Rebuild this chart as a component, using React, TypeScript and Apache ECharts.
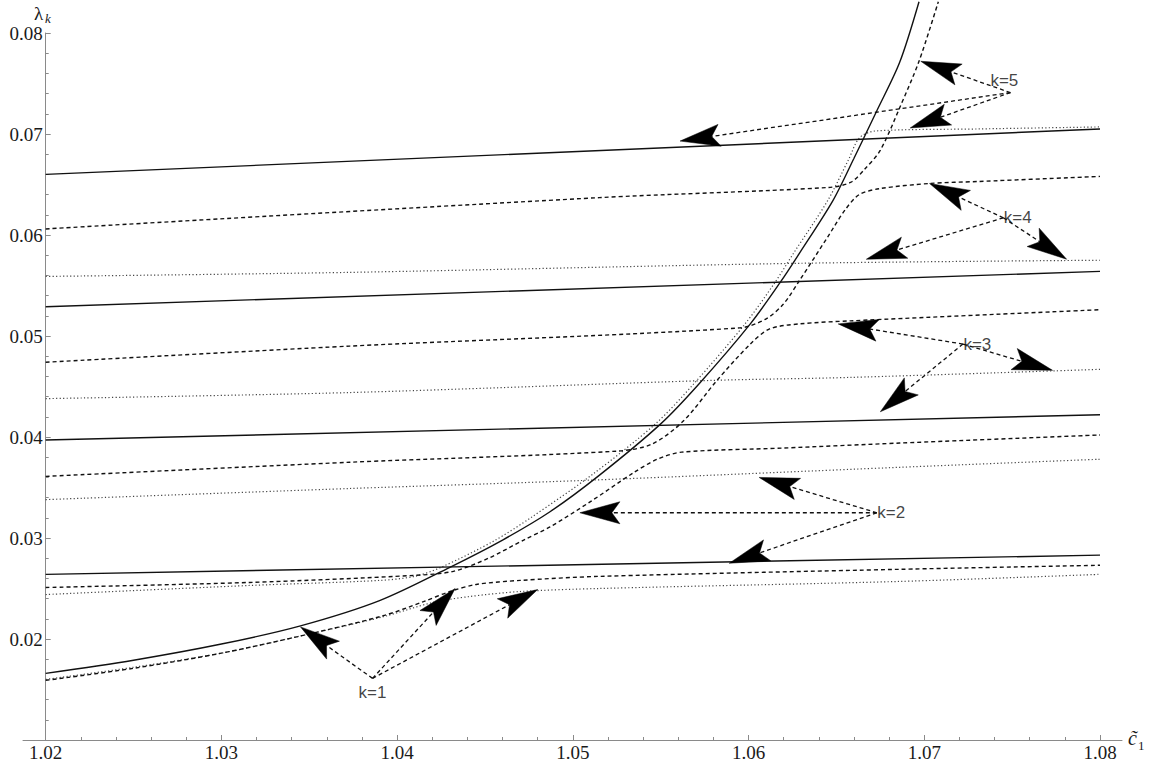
import React, { useEffect, useRef } from "react";
import * as echarts from "echarts";

// ---- axes ----
const xRange = [1.02, 1.08];
const yRange = [0.01, 0.08];
const tickStep = 0.01;

// ---- solid family ----
const solidCurve = [
  [1.02, 0.0166], [1.025, 0.0179], [1.03, 0.0195], [1.0345, 0.0213], [1.039, 0.0238],
  [1.043, 0.0271], [1.046, 0.0298], [1.0487, 0.0326], [1.0515, 0.0362], [1.055, 0.0413],
  [1.0572, 0.0453], [1.0601, 0.0512], [1.0618, 0.0553], [1.0629, 0.0582], [1.0648, 0.0634],
  [1.066, 0.0676], [1.0673, 0.0723], [1.0686, 0.0771], [1.0697, 0.0831],
];
const solidK2 = [[1.02, 0.0264], [1.08, 0.0283]];
const solidK3 = [[1.02, 0.0397], [1.08, 0.0422]];
const solidK4 = [[1.02, 0.0529], [1.08, 0.0564]];
const solidK5 = [[1.02, 0.066], [1.08, 0.0705]];

// ---- dashed family ----
const dashed1 = [
  [1.02, 0.0159], [1.025, 0.0171], [1.03, 0.0186], [1.0345, 0.0203], [1.0392, 0.0223],
  [1.0415, 0.0237], [1.043, 0.0247], [1.0445, 0.0254], [1.047, 0.0258], [1.0515, 0.0262],
  [1.0686, 0.0269], [1.08, 0.0273],
];
const dashed2 = [
  [1.02, 0.0251], [1.0316, 0.0256], [1.041, 0.0263], [1.0432, 0.0267], [1.0452, 0.028],
  [1.0472, 0.0298], [1.0487, 0.0311], [1.051, 0.0336], [1.0534, 0.0364], [1.0548, 0.0378],
  [1.0562, 0.0385], [1.0619, 0.0389], [1.0686, 0.0394], [1.08, 0.0402],
];
const dashed3 = [
  [1.02, 0.0361], [1.0373, 0.0375], [1.0525, 0.0386], [1.0545, 0.0393], [1.0563, 0.0416],
  [1.0582, 0.0456], [1.0601, 0.0492], [1.0612, 0.0507], [1.0629, 0.0512], [1.0658, 0.0515],
  [1.08, 0.0526],
];
const dashed4 = [
  [1.02, 0.0474], [1.0373, 0.049], [1.0595, 0.0508], [1.061, 0.0517], [1.062, 0.0532],
  [1.0629, 0.0555], [1.0645, 0.0598], [1.0655, 0.0625], [1.0663, 0.064], [1.0675, 0.0646],
  [1.0703, 0.0651], [1.0731, 0.0653], [1.08, 0.0658],
];
const dashed5 = [
  [1.02, 0.0606], [1.0515, 0.0637], [1.0645, 0.0647], [1.0658, 0.0652], [1.0666, 0.0665],
  [1.0675, 0.0684], [1.0686, 0.0726], [1.0697, 0.0772], [1.0708, 0.0831],
];

// ---- dotted family ----
const dotted1 = [
  [1.02, 0.016], [1.025, 0.0172], [1.03, 0.0186], [1.0345, 0.0203], [1.0392, 0.0222],
  [1.042, 0.0236], [1.0441, 0.0242], [1.047, 0.0247], [1.0515, 0.025], [1.0686, 0.0257],
  [1.08, 0.0264],
];
const dotted2 = [
  [1.02, 0.0244], [1.0316, 0.0253], [1.039, 0.0258], [1.041, 0.0262], [1.0425, 0.0271],
  [1.0455, 0.0297], [1.0476, 0.032], [1.0512, 0.0364], [1.0547, 0.0413], [1.0569, 0.0453],
  [1.0598, 0.0512], [1.0615, 0.0553], [1.0626, 0.0583], [1.0645, 0.0634], [1.0657, 0.0675],
  [1.0663, 0.0696], [1.0672, 0.0703], [1.0731, 0.0705], [1.08, 0.0707],
];
const dotted3 = [[1.02, 0.0338], [1.0373, 0.0349], [1.0506, 0.0357], [1.0686, 0.037], [1.08, 0.0378]];
const dotted4 = [[1.02, 0.0438], [1.0373, 0.0444], [1.0578, 0.0456], [1.0658, 0.0459], [1.08, 0.0467]];
const dotted5 = [[1.02, 0.0559], [1.0373, 0.0563], [1.0629, 0.0572], [1.08, 0.0575]];

// ---- annotation arrows: [fromX, fromY, tipX, tipY] ----
const arrowsK1 = [
  [1.0386, 0.0161, 1.0345, 0.0212],
  [1.0386, 0.0161, 1.0433, 0.025],
  [1.0386, 0.0161, 1.048, 0.0249],
];
const arrowsK2 = [
  [1.0673, 0.0325, 1.0606, 0.036],
  [1.0673, 0.0325, 1.0504, 0.0325],
  [1.0673, 0.0325, 1.0589, 0.0275],
];
const arrowsK3 = [
  [1.0722, 0.0492, 1.0651, 0.0512],
  [1.0722, 0.0492, 1.0773, 0.0466],
  [1.0722, 0.0492, 1.0675, 0.0425],
];
const arrowsK4 = [
  [1.0745, 0.0617, 1.0703, 0.0651],
  [1.0745, 0.0617, 1.0667, 0.0576],
  [1.0745, 0.0617, 1.0781, 0.0576],
];
const arrowsK5 = [
  [1.0749, 0.0741, 1.0698, 0.0772],
  [1.0749, 0.0741, 1.0692, 0.0706],
  [1.0749, 0.0741, 1.0561, 0.0693],
];

// ---- labels ----
const labelNames = ["k=1", "k=2", "k=3", "k=4", "k=5"];
const labelPoints = [
  [1.0386, 0.0161],
  [1.0673, 0.0325],
  [1.0722, 0.0492],
  [1.0745, 0.0617],
  [1.0749, 0.0741],
];
const labelPlacement = ["bottom", "right", "right", "right", "top"];

const INK = "#111";
const SERIF = "'Liberation Serif', 'DejaVu Serif', serif";
const SANS = "'Liberation Sans', Arial, sans-serif";

function lineSeries(data: number[][], kind: "solid" | "dashed" | "dotted", clip = true) {
  const style: any =
    kind === "solid"
      ? { color: INK, width: 1.4, type: "solid" }
      : kind === "dashed"
      ? { color: INK, width: 1.4, type: [4, 3] }
      : { color: "#444", width: 1.2, type: [1.2, 2.3] };
  return {
    type: "line",
    data,
    showSymbol: false,
    symbol: "none",
    smooth: 0.3,
    clip,
    lineStyle: style,
    silent: true,
    z: kind === "solid" ? 3 : 2,
  };
}

export default function App() {
  const ref = useRef<HTMLDivElement>(null);

  useEffect(() => {
    if (!ref.current) return;
    const chart = echarts.init(ref.current, null, { renderer: "svg" });

    const allArrows = [...arrowsK1, ...arrowsK2, ...arrowsK3, ...arrowsK4, ...arrowsK5];

    const axisColor = "#8a8a8a";
    const labelFont = {
      fontFamily: SERIF,
      fontSize: 19,
      color: "#1a1a1a",
    };

    const option: any = {
      animation: false,
      backgroundColor: "#fff",
      textStyle: { fontFamily: SERIF },
      grid: [
        { left: 45.7, right: 53, top: 33, bottom: 27 },
        { left: 23, right: 31, top: 33, bottom: 27 },
      ],
      xAxis: [
        {
          type: "value",
          gridIndex: 0,
          min: xRange[0],
          max: xRange[1],
          interval: tickStep,
          axisLine: { show: false },
          axisTick: { show: true, inside: true, length: 5, lineStyle: { color: axisColor } },
          minorTick: { show: true, splitNumber: 5, length: 3, lineStyle: { color: axisColor } },
          axisLabel: { ...labelFont, margin: 3, formatter: (v: number) => v.toFixed(2) },
          splitLine: { show: false },
          minorSplitLine: { show: false },
        },
        {
          type: "value",
          gridIndex: 1,
          min: 0,
          max: 1,
          axisLine: { show: true, onZero: false, lineStyle: { color: axisColor, width: 1 } },
          axisTick: { show: false },
          axisLabel: { show: false },
          splitLine: { show: false },
        },
      ],
      yAxis: [
        {
          type: "value",
          gridIndex: 0,
          min: yRange[0],
          max: yRange[1],
          interval: tickStep,
          axisLine: { show: true, onZero: false, lineStyle: { color: axisColor, width: 1 } },
          axisTick: { show: true, inside: true, length: 5, lineStyle: { color: axisColor } },
          minorTick: { show: true, splitNumber: 5, length: 3, lineStyle: { color: axisColor } },
          axisLabel: {
            ...labelFont,
            margin: 3,
            showMinLabel: false,
            formatter: (v: number) => v.toFixed(2),
          },
          splitLine: { show: false },
        },
        { type: "value", gridIndex: 1, show: false, min: 0, max: 1 },
      ],
      graphic: [
        {
          type: "text",
          left: 34,
          top: 4,
          style: { text: "λ", fontFamily: SERIF, fontSize: 19, fill: "#1a1a1a" },
        },
        {
          type: "text",
          left: 45,
          top: 12,
          style: { text: "k", fontFamily: SERIF, fontStyle: "italic", fontSize: 13, fill: "#1a1a1a" },
        },
        {
          type: "text",
          left: 1128,
          top: 728,
          style: { text: "c\u0303", fontFamily: SERIF, fontStyle: "italic", fontSize: 20, fill: "#1a1a1a" },
        },
        {
          type: "text",
          left: 1138,
          top: 739,
          style: { text: "1", fontFamily: SERIF, fontSize: 13, fill: "#1a1a1a" },
        },
      ],
      series: [
        lineSeries(dotted1, "dotted"),
        lineSeries(dotted2, "dotted"),
        lineSeries(dotted3, "dotted"),
        lineSeries(dotted4, "dotted"),
        lineSeries(dotted5, "dotted"),
        lineSeries(dashed1, "dashed"),
        lineSeries(dashed2, "dashed"),
        lineSeries(dashed3, "dashed"),
        lineSeries(dashed4, "dashed"),
        lineSeries(dashed5, "dashed", false),
        lineSeries(solidK2, "solid"),
        lineSeries(solidK3, "solid"),
        lineSeries(solidK4, "solid"),
        lineSeries(solidK5, "solid"),
        lineSeries(solidCurve, "solid", false),
        {
          type: "custom",
          coordinateSystem: "cartesian2d",
          data: allArrows,
          encode: { x: [0, 2], y: [1, 3] },
          clip: false,
          silent: true,
          z: 5,
          renderItem: (params: any, api: any) => {
            const p0 = api.coord([api.value(0), api.value(1)]);
            const p1 = api.coord([api.value(2), api.value(3)]);
            const dx = p1[0] - p0[0];
            const dy = p1[1] - p0[1];
            const len = Math.hypot(dx, dy) || 1;
            const ux = dx / len;
            const uy = dy / len;
            const L = 40;
            const W = 11;
            const nx = -uy;
            const ny = ux;
            const bx = p1[0] - ux * L;
            const by = p1[1] - uy * L;
            const notch = [p1[0] - ux * L * 0.8, p1[1] - uy * L * 0.8];
            return {
              type: "group",
              children: [
                {
                  type: "line",
                  shape: { x1: p0[0], y1: p0[1], x2: notch[0], y2: notch[1] },
                  style: { stroke: INK, lineWidth: 1.3, lineDash: [4, 3], fill: null },
                },
                {
                  type: "polygon",
                  shape: {
                    points: [
                      [p1[0], p1[1]],
                      [bx + nx * W, by + ny * W],
                      notch,
                      [bx - nx * W, by - ny * W],
                    ],
                  },
                  style: { fill: "#000", stroke: "#000", lineWidth: 0.5 },
                },
              ],
            };
          },
        },
        {
          type: "scatter",
          data: labelPoints.map((p, i) => ({
            value: p,
            label: {
              show: true,
              formatter: labelNames[i],
              position: labelPlacement[i],
              distance: labelPlacement[i] === "bottom" ? 5 : labelPlacement[i] === "top" ? 3 : 0,
              offset: labelPlacement[i] === "top" ? [-6, 0] : [0, 0],
            },
          })),
          symbolSize: 1,
          itemStyle: { color: "rgba(0,0,0,0)" },
          silent: true,
          z: 6,
          label: {
            fontFamily: SANS,
            fontSize: 17,
            color: "#111",
          },
        },
      ],
    };

    chart.setOption(option);
    return () => chart.dispose();
  }, []);

  return (
    <div
      ref={ref}
      style={{ position: "absolute", left: 0, top: 0, width: 1153, height: 767, background: "#fff" }}
    />
  );
}
